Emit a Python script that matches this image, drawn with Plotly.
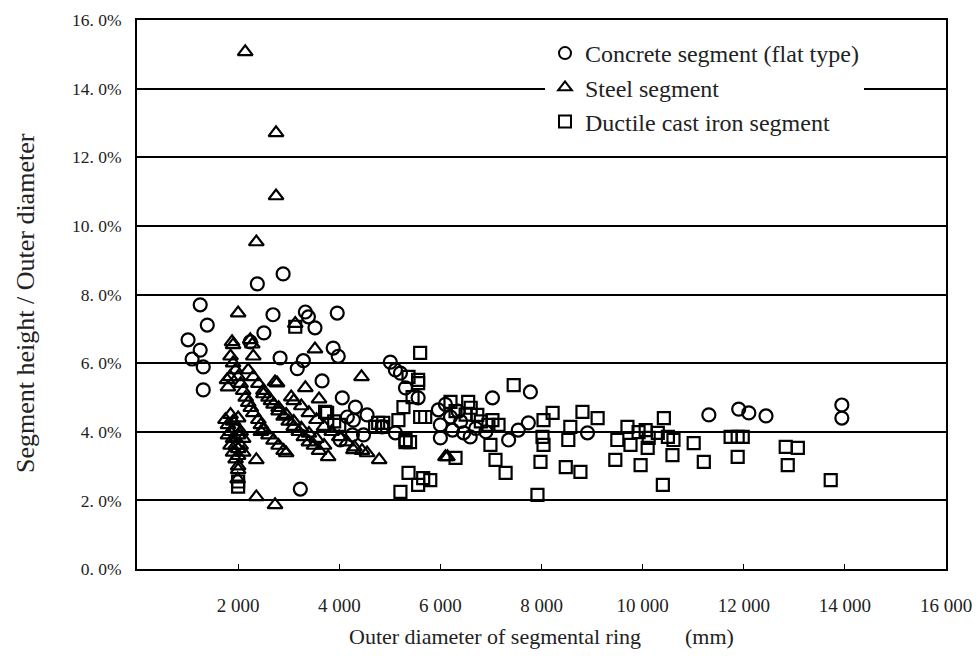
import plotly.graph_objects as go

# ---------------- data ----------------
concrete_x = [1250, 1390, 1010, 1250, 1090, 1310, 1310, 2380, 2890, 2690, 2510, 2240, 2830,
              3330, 3960, 3520, 3390, 3880, 3980, 3170, 3290, 3660, 4060, 4320, 4160, 4550,
              4020, 4260, 4480, 4280, 3230, 5010, 5110, 5210, 5310, 5560, 5110, 4850, 5960,
              6000, 6000, 6200, 6240, 6460, 6590, 6100, 6350, 6400, 6700, 6900, 7030, 7350,
              7540, 7740, 7780, 8910, 11310, 11900, 12100, 12440, 13940, 13940]
concrete_y = [7.70, 7.11, 6.68, 6.38, 6.12, 5.89, 5.22, 8.31, 8.60, 7.41, 6.88, 6.62, 6.15,
              7.49, 7.46, 7.03, 7.35, 6.44, 6.20, 5.84, 6.07, 5.48, 4.99, 4.72, 4.43, 4.49,
              3.76, 3.91, 3.91, 4.34, 2.33, 6.03, 5.80, 5.71, 5.28, 4.99, 3.97, 4.14, 4.64,
              4.20, 3.82, 4.43, 4.05, 3.97, 3.85, 4.80, 4.60, 4.30, 4.10, 4.00, 4.99, 3.76,
              4.05, 4.26, 5.16, 3.97, 4.49, 4.66, 4.55, 4.46, 4.78, 4.40]

steel_x = [2140, 2750, 2750, 2360, 2000, 1900, 2240, 3520, 2730, 3330, 4440, 1780, 2360,
           2000, 2360, 2730, 2950, 3780, 4550, 4790, 6140, 3130, 1880, 2280, 2770,
           # column near 2 000 mm
           1750, 1800, 1800, 1850, 1850, 1850, 1900, 1900, 1900, 1950, 1950, 1950, 2000,
           2000, 2000, 2000, 2050, 2050, 2100, 2100, 2000, 1990,
           # band 2
           1850, 1900, 1950, 2000, 2050, 2100, 2150, 2200, 2250, 2300, 2400, 2450, 2500,
           2600, 2700, 2800, 2900,
           # band 3
           2200, 2300, 2400, 2500, 2600, 2700, 2800, 2900, 3000, 3100, 3200, 3300, 3400,
           3500, 3600,
           # band 4
           3100, 3250, 3400, 3550, 3700, 3850, 4000, 4150, 4300, 4450,
           # band 5
           2500, 2650, 2800, 2950, 3100, 3250, 3400, 3550, 3700,
           # misc
           1840, 1800, 2300, 2450, 3050, 3600, 4280, 6100]
steel_y = [15.07, 12.71, 10.87, 9.53, 7.46, 6.53, 6.68, 6.41, 5.45, 5.28, 5.60, 5.51, 3.18,
           2.89, 2.10, 1.87, 3.38, 3.27, 3.38, 3.18, 3.27, 7.15, 6.62, 6.55, 5.42,
           4.35, 4.20, 3.90, 4.50, 4.00, 3.60, 4.30, 3.80, 3.40, 4.10, 3.60, 3.20, 4.40,
           3.90, 3.50, 3.30, 4.00, 3.60, 3.80, 3.40, 3.00, 2.62,
           6.20, 6.00, 5.80, 5.60, 5.40, 5.20, 5.00, 4.85, 4.70, 4.55, 4.35, 4.20, 4.05,
           3.90, 3.75, 3.60, 3.45,
           5.80, 5.60, 5.40, 5.20, 5.00, 4.80, 4.60, 4.45, 4.30, 4.15, 4.00, 3.85, 3.70,
           3.60, 3.45,
           4.90, 4.75, 4.55, 4.35, 4.15, 4.00, 3.85, 3.70, 3.55, 3.45,
           5.10, 4.90, 4.70, 4.50, 4.30, 4.10, 3.95, 3.80, 3.60,
           5.60, 5.30, 6.20, 4.00, 5.01, 4.95, 3.47, 3.27]

ductile_x = [2000, 2000, 3130, 3720, 3760, 4710, 4850, 4770, 4870, 3900, 4000, 5600, 5560,
             5370, 5560, 5270, 5170, 5310, 5400, 5600, 5700, 5450, 5310, 5210, 5370, 5560,
             5800, 5660, 6200, 6550, 6730, 7030, 7150, 6990, 7090, 7290, 6300, 7450, 7920,
             8220, 8040, 8020, 8040, 7980, 8810, 9110, 8570, 8530, 8480, 8770, 9500, 9460,
             9700, 9760, 9920, 10060, 10100, 9960, 10120, 10420, 10300, 10500, 10610, 10590,
             11010, 10400, 11210, 11740, 11880, 11980, 11880, 12830, 13070, 12870, 13720,
             6300, 6500, 6800, 6950, 6600]
ductile_y = [2.55, 2.40, 7.06, 4.58, 4.55, 4.14, 4.14, 4.26, 4.26, 4.30, 4.20, 6.30, 5.42,
             5.60, 5.51, 4.72, 4.34, 3.70, 3.70, 4.43, 4.43, 5.01, 3.76, 2.25, 2.80, 2.45,
             2.59, 2.65, 4.87, 4.87, 4.49, 4.34, 4.20, 3.62, 3.18, 2.80, 3.24, 5.36, 2.16,
             4.55, 4.34, 3.85, 3.62, 3.12, 4.58, 4.40, 4.14, 3.76, 2.97, 2.83, 3.76, 3.18,
             4.14, 3.62, 3.99, 4.05, 3.53, 3.03, 3.82, 4.40, 3.97, 3.85, 3.76, 3.32,
             3.67, 2.45, 3.12, 3.85, 3.85, 3.85, 3.27, 3.56, 3.53, 3.03, 2.59,
             4.60, 4.50, 4.30, 4.20, 4.70]

x_tickvals = [2000, 4000, 6000, 8000, 10000, 12000, 14000, 16000]
x_ticktext = ["2 000", "4 000", "6 000", "8 000", "10 000", "12 000", "14 000", "16 000"]
y_tickvals = [0, 2, 4, 6, 8, 10, 12, 14, 16]
y_ticktext = ["0. 0%", "2. 0%", "4. 0%", "6. 0%", "8. 0%", "10. 0%", "12. 0%", "14. 0%", "16. 0%"]

series_names = ["Concrete segment (flat type)", "Steel segment", "Ductile cast iron segment"]

# ---------------- figure ----------------
SERIF = "Liberation Serif"
mk_line = dict(color="black", width=2.2)

# page body has an 8 px margin: figure spans x 8..972, y 8..650 in the window
PL, PR, PT, PB = 137, 946, 20, 569      # plot-area edges in window pixels
W, H = 964, 642
OFF = 8
PW, PH = PR - PL, PB - PT

fig = go.Figure()
fig.add_trace(go.Scatter(x=concrete_x, y=concrete_y, mode="markers", name=series_names[0],
                         marker=dict(symbol="circle-open", size=13, color="black", line=mk_line)))
fig.add_trace(go.Scatter(x=steel_x, y=steel_y, mode="markers", name=series_names[1],
                         marker=dict(symbol="triangle-up-open", size=13, color="black", line=mk_line)))
fig.add_trace(go.Scatter(x=ductile_x, y=ductile_y, mode="markers", name=series_names[2],
                         marker=dict(symbol="square-open", size=12, color="black", line=mk_line)))

fig.update_layout(
    width=W, height=H,
    margin=dict(l=PL - OFF, r=W - (PR - OFF), t=PT - OFF, b=H - (PB - OFF), autoexpand=False),
    paper_bgcolor="white", plot_bgcolor="white",
    font=dict(family=SERIF, color="black", size=16),
    showlegend=True,
    legend=dict(x=(545 - PL) / PW, y=(PB - 31) / PH, xanchor="left", yanchor="top",
                bgcolor="white", font=dict(family=SERIF, size=24, color="#222"),
                tracegroupgap=0, itemsizing="constant", entrywidth=335,
                entrywidthmode="pixels"),
    xaxis=dict(range=[0, 16000], tickvals=x_tickvals, ticktext=x_ticktext,
               showgrid=False, zeroline=False, showline=True, linecolor="black", linewidth=2,
               mirror=True, ticks="inside", ticklen=5, tickcolor="black",
               tickfont=dict(family=SERIF, size=19, color="#222"), ticklabelstandoff=18,
               ticklabeloverflow="allow"),
    yaxis=dict(range=[0, 16], tickvals=y_tickvals, ticktext=y_ticktext,
               showgrid=True, gridcolor="black", gridwidth=1.5, zeroline=False,
               showline=True, linecolor="black", linewidth=2, mirror=True,
               ticks="", tickfont=dict(family=SERIF, size=17.5, color="#222"),
               ticklabelstandoff=10),
    annotations=[
        dict(text="Outer diameter of segmental ring\u2003\u2003(mm)", xref="paper", yref="paper",
             x=0.5, y=-(636 - PB) / PH, xanchor="center", yanchor="middle",
             showarrow=False, font=dict(family=SERIF, size=22, color="#222")),
        dict(text="Segment height / Outer diameter", xref="paper", yref="paper",
             x=-(PL - 25) / PW, y=(PB - 303) / PH, xanchor="center", yanchor="middle",
             textangle=-90, showarrow=False, font=dict(family=SERIF, size=26, color="#222")),
    ],
)

fig.write_html("out.html")
